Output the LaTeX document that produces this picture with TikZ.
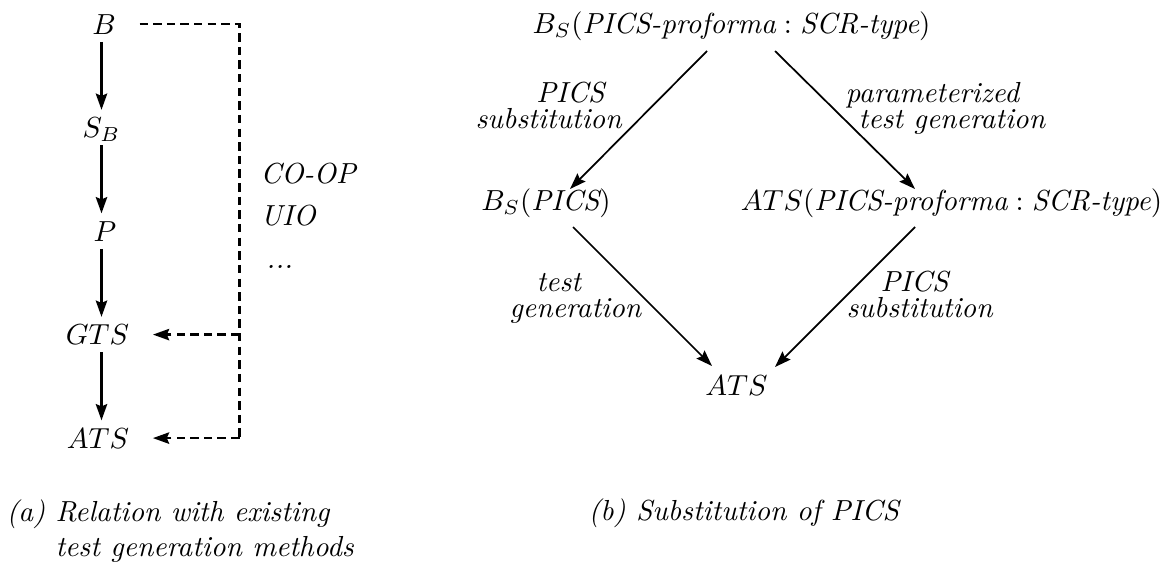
\documentclass[tikz,border=0pt]{standalone}
\usetikzlibrary{arrows.meta,calc}
\begin{document}
\begin{tikzpicture}[x=0.3448pt,y=-0.3448pt,
  every node/.style={inner sep=0pt, font=\itshape},
  tip/.style={-{Stealth[length=5.6pt,width=3.9pt,inset=0.8pt]}},
  chain/.style={anchor=base, text height=6.83pt, text depth=0pt, inner ysep=2.5pt, inner xsep=8pt},
  solidarr/.style={tip, line width=0.9pt},
  dasharr/.style={line width=0.9pt, dash pattern=on 2.9pt off 1.8pt},
  diagarr/.style={tip, line width=0.6pt},
  lbl/.style={anchor=base west, align=left}
]
\useasboundingbox (0,0) rectangle (1164,583);

% ---- (a) chain of derivations ----
\node[chain] (B)   at (104,34)    {$B$};
\node[chain] (SB)  at (101.5,137.5) {$S_B$};
\node[chain] (P)   at (105,241)   {$P$};
\node[chain] (GTS) at (97.5,344.5) {$GTS$};
\node[chain] (ATS) at (98,448)    {$ATS$};

\coordinate (col)  at (101.5,0);
\coordinate (rail) at (239.5,0);

\draw[solidarr] (B.south -| col)   -- (SB.north -| col);
\draw[solidarr] (SB.south -| col)  -- (P.north -| col);
\draw[solidarr] (P.south -| col)   -- (GTS.north -| col);
\draw[solidarr] (GTS.south -| col) -- (ATS.north -| col);

\draw[dasharr] (B.east) -- (B.east -| rail) -- (ATS.east -| rail);
\draw[dasharr, tip] (ATS.east -| rail) -- (ATS.east);
\draw[dasharr, tip] (GTS.east -| rail) -- (GTS.east);

\node[lbl] (methods) at (260,268) {CO-OP\\[2.6pt]UIO\\[2.6pt]\hspace*{2pt}...};

% ---- (b) substitution diamond ----
\node[anchor=base] (top)  at (731.5,33)  {$B_S(\textit{PICS-proforma} : \textit{SCR-type})$};
\node[anchor=base] (bs)   at (546,210)   {$B_S(\textit{PICS})$};
\node[anchor=base] (atsp) at (951.5,210) {$ATS(\textit{PICS-proforma} : \textit{SCR-type})$};
\node[anchor=base] (ats)  at (736.5,395) {$ATS$};

\draw[diagarr] ($(top.base)+(-24.5,18)$) -- ($(bs.base)+(24,-21)$);
\draw[diagarr] ($(top.base)+(43.5,18)$)  -- ($(atsp.base)+(-36.5,-21)$);
\draw[diagarr] ($(bs.base)+(27,17)$)     -- ($(ats.base)+(-24.5,-29)$);
\draw[diagarr] ($(atsp.base)+(-36.5,17)$) -- ($(ats.base)+(38.5,-28)$);

\node[lbl] (l1) at (475,128) {\hspace*{21pt}PICS\\[-3.2pt]substitution};
\node[lbl] (l2) at (845,128) {parameterized\\[-3.2pt]\hspace*{4.5pt}test generation};
\node[lbl] (l3) at (509,317) {\hspace*{9.3pt}test\\[-3.2pt]generation};
\node[lbl] (l4) at (846,317) {\hspace*{11.7pt}PICS\\[-3.2pt]substitution};

% ---- captions ----
\node[lbl] (capa) at (6,556) {(a) Relation with existing\\\hphantom{(a) }test generation methods};
\node[lbl] (capb) at (588,520) {(b) Substitution of PICS};
\end{tikzpicture}
\end{document}
